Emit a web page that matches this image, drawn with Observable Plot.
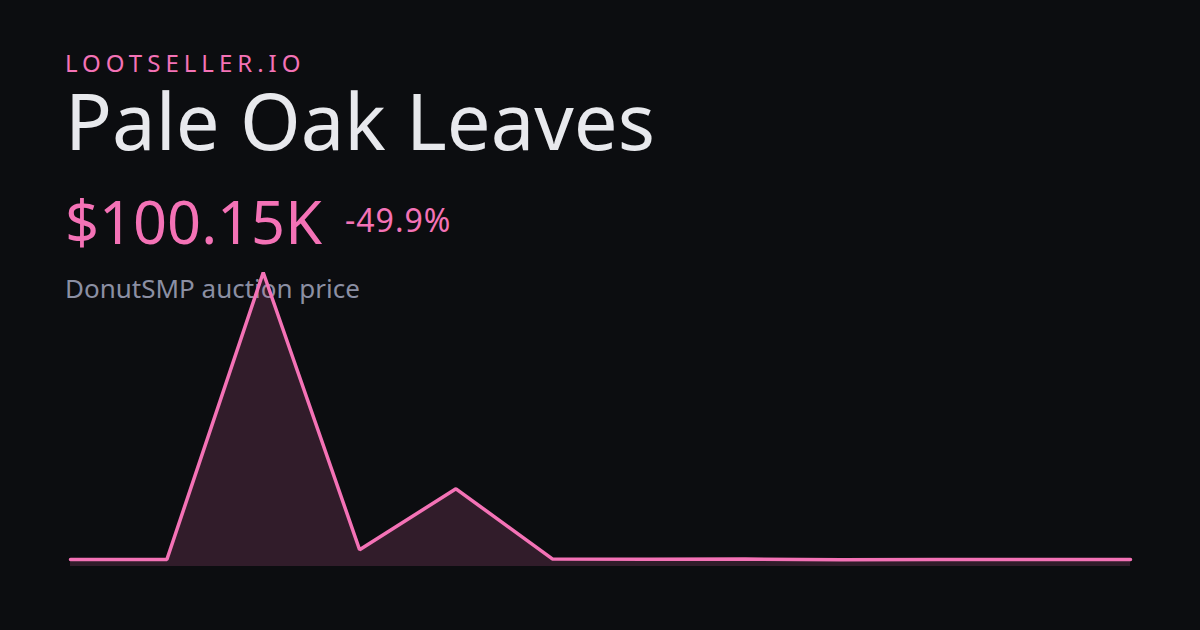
<!DOCTYPE html>
<html>
<head>
<meta charset="utf-8">
<script src="https://cdn.jsdelivr.net/npm/d3@7"></script>
<script src="https://cdn.jsdelivr.net/npm/@observablehq/plot@0.6"></script>
<style>
  html, body { margin: 0; padding: 0; background: #0c0d10; }
  body { width: 1200px; height: 630px; position: relative; overflow: hidden; font-family: "Noto Sans", sans-serif; }
  .t { position: absolute; left: 65px; white-space: nowrap; line-height: 1; }
  #brand { top: 51px; font-size: 24px; letter-spacing: 5px; color: #f472b6; }
  #title { top: 82px; font-size: 77.8px; color: #e8e9ed; }
  #price { top: 190.5px; font-size: 59.5px; color: #f472b6; }
  #change { position: absolute; left: 345px; top: 204px; font-size: 32px; letter-spacing: 1px; color: #f472b6; line-height: 1; white-space: nowrap; }
  #sub { top: 275px; font-size: 26px; color: #8b8fa3; }
  #chart { position: absolute; left: 0; top: 0; }
</style>
</head>
<body>
<div class="t" id="brand">LOOTSELLER.IO</div>
<div class="t" id="title">Pale Oak Leaves</div>
<div class="t" id="price">$100.15K</div>
<div id="change">-49.9%</div>
<div class="t" id="sub">DonutSMP auction price</div>
<div id="chart"></div>
<script>
const steps = [0,1,2,3,4,5,6,7,8,9,10,11];
const prices = [100, 100, 4200, 240, 1110, 108, 104, 106, 96, 100, 100, 100.15]; // thousands
const data = steps.map((s, i) => ({s, v: prices[i]}));

const chart = Plot.plot({
  width: 1200,
  height: 630,
  marginLeft: 70,
  marginRight: 70,
  marginTop: 272,
  marginBottom: 64,
  style: {background: "transparent"},
  x: {domain: [0, 11], axis: null},
  y: {domain: [0, d3.max(prices)], axis: null},
  marks: [
    Plot.areaY(data, {x: "s", y: "v", fill: "#f472b6", fillOpacity: 0.16}),
    Plot.lineY(data, {x: "s", y: "v", stroke: "#f472b6", strokeWidth: 3.5, strokeLinejoin: "miter", strokeLinecap: "round"})
  ]
});
document.getElementById("chart").appendChild(chart);
</script>
</body>
</html>
